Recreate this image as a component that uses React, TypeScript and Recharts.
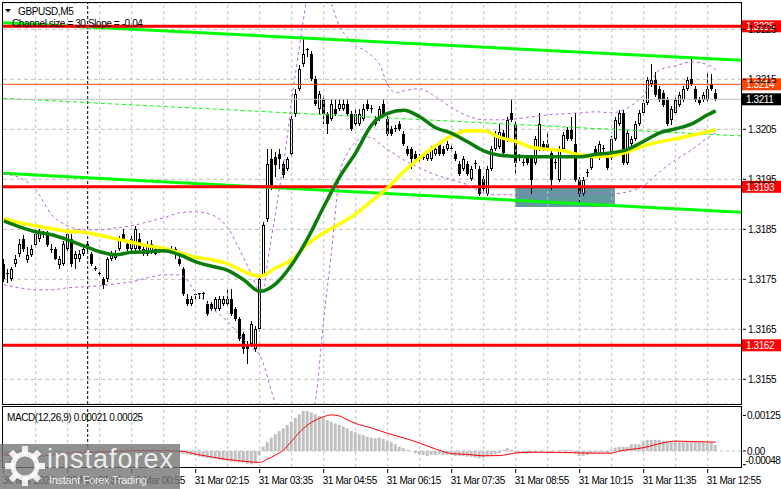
import React from "react";
import {
  Bar,
  CartesianGrid,
  ComposedChart,
  Line,
  ReferenceArea,
  ReferenceLine,
  XAxis,
  YAxis,
} from "recharts";

const FONT = '"Liberation Sans", Arial, Helvetica, sans-serif';

// GBPUSD M5, 30 Mar 22:15 -> 31 Mar 13:05, one entry per bar.
// Prices are written as pips above 1.3100.
const BASE = 1.31;
const toPrice = (pips: number) => Math.round((BASE + pips / 10000) * 1e6) / 1e6;

const opens = [
  78.1, 76.2, 75.1, 78.1, 80.1, 83.1, 78.9, 79.9, 81.9, 83.1,
  84, 84.1, 81, 81.1, 77.9, 78.1, 81.1, 83.1, 79.1, 79.1,
  80.1, 82.1, 80.1, 77.2, 76.2, 75.1, 75.1, 79.1, 79.3, 81.1,
  84.1, 82.1, 81.1, 81.1, 83.1, 80.1, 80.1, 80.3, 81.1, 81,
  81.1, 81, 81.1, 81.1, 79.1, 77.1, 71.1, 70.1, 72, 72.1,
  72.1, 70.1, 70.1, 69.1, 69.1, 70.1, 70.1, 71.1, 69.1, 67.1,
  64.1, 62.1, 62.1, 61.1, 65, 75.9, 87.1, 99.1, 99.5, 100.1,
  98.1, 97.1, 100.1, 108.1, 113.1, 118.1, 121, 120.1, 115.1, 109.1,
  111.1, 108.1, 107.1, 109.1, 109.1, 109.1, 110.1, 108.1, 106.1, 106.1,
  107.1, 110.1, 109.2, 107.1, 107.1, 110.1, 107.1, 105.1, 105.2, 106.1,
  104.1, 101.1, 101.1, 100.1, 99.2, 99.3, 99.1, 99.1, 100.1, 102.1,
  101.1, 101.1, 101.2, 100.1, 98.1, 97.1, 98.1, 95.1, 98.2, 97.1,
  95.1, 92.1, 97.1, 101.1, 101.5, 104.3, 102.9, 108.3, 106.1, 99.4,
  98.4, 99.3, 99.3, 98.3, 101.1, 102.1, 102.1, 100.3, 98.4, 94.9,
  101.1, 104.9, 104.9, 102.1, 94.9, 92.1, 96.4, 97.3, 101.1, 99.3,
  101.2, 99.3, 99.3, 103.1, 106.1, 108.3, 98.3, 102.1, 103.1, 106.1,
  108.3, 110.3, 114, 114.9, 113.1, 112.3, 110.9, 106.9, 108.3, 109.9,
  110.9, 113.1, 115.1, 113.1, 110.9, 110.9, 110.9, 114.1, 112.3,
];

const highs = [
  79, 77, 77.5, 79.8, 83, 83.8, 81.5, 81.8, 84.8, 85.1,
  84.6, 84.6, 82, 81.5, 79.6, 82.7, 84.7, 84, 80.6, 80.8,
  82, 82.6, 80.5, 77.6, 76.6, 75.5, 79.5, 80.6, 80.8, 83.6,
  85.1, 82.6, 83.6, 85.6, 84.3, 81.6, 82.6, 82.8, 81.6, 81.3,
  81.4, 81.3, 81.6, 81.5, 79.6, 77.5, 72.1, 71.6, 72.2, 72.3,
  72.4, 70.6, 70.5, 71.5, 71.6, 71.6, 73.1, 73.1, 69.5, 67.5,
  64.5, 62.6, 66.6, 65.6, 75.6, 86.5, 101.1, 101.1, 100.5, 101.1,
  98.6, 99.5, 107.6, 113.1, 117.9, 123.1, 121.3, 120.6, 115.6, 112.6,
  111.6, 108.5, 111.1, 111, 111.1, 111.1, 111.1, 108.6, 109, 109.1,
  110.1, 111.1, 109.8, 107.6, 109.6, 111.1, 107.6, 105.6, 105.8, 106.6,
  104.6, 101.6, 101.5, 100.6, 100, 100.3, 100.6, 101.6, 101.6, 102.6,
  101.6, 102.6, 101.8, 100.6, 98.6, 99.6, 98.6, 97.6, 98.8, 97.6,
  95.6, 97.6, 101.6, 104.6, 106, 104.8, 107.4, 111.1, 106.6, 100,
  99, 99.8, 99.8, 103.6, 108.3, 102.6, 104.5, 100.8, 99, 101.6,
  104.4, 105.4, 107.5, 108.3, 95.4, 95.4, 97, 99.8, 101.6, 102.6,
  101.8, 99.8, 103.6, 107.4, 108.8, 108.8, 104.8, 103.6, 106.6, 108.8,
  110.8, 115.4, 118.1, 116.5, 113.6, 112.8, 111.4, 109.6, 111.4, 112.4,
  113.6, 115.4, 119.1, 113.6, 111.4, 112.4, 116.5, 116.1, 113.1,
];

const lows = [
  74.5, 74.3, 74.7, 77.5, 79.5, 80.5, 78.2, 79.5, 81.5, 82.5,
  83.2, 81.5, 80.2, 78.8, 77, 77.6, 80.6, 77.5, 77.1, 78.5,
  79.6, 80.6, 77.6, 76.7, 75.6, 73.1, 74.5, 78.7, 78.8, 80.6,
  82.6, 80.6, 80.7, 80.7, 80.7, 79.7, 79.7, 80, 79.8, 80.2,
  80.3, 80.2, 80.3, 79.1, 77.7, 71.7, 69.7, 69.7, 71, 71.1,
  71, 67.7, 68.7, 68.7, 68.7, 69.7, 69.7, 67.7, 66.6, 62.6,
  60.1, 58.1, 61.5, 60.5, 64.5, 75.5, 86.5, 92.9, 95.5, 97,
  95.3, 96.7, 99.6, 107.5, 112.6, 117.5, 119.5, 114.6, 109.6, 108,
  106, 104.1, 106.6, 107.6, 108.6, 108.6, 107.6, 104.6, 105.6, 105.6,
  106.6, 108.6, 108.3, 105.6, 106.6, 107.6, 103.6, 103.6, 104.5, 104.6,
  101.6, 99.6, 97.1, 98.6, 98.6, 98.8, 98.6, 98.6, 99.6, 99.6,
  99.6, 100.6, 100.4, 98.6, 95.6, 96.6, 95.6, 94.6, 97.1, 91.6,
  92.1, 91.6, 96.6, 100.6, 101, 99.8, 102.4, 106.4, 96.1, 98.6,
  97.6, 97.8, 92.1, 97.8, 100.6, 100.6, 100.6, 92.9, 97, 94.4,
  100.6, 102.6, 102.6, 94.4, 90.3, 91.6, 95.5, 96.8, 99.8, 98.8,
  100.4, 96.8, 98.8, 102.6, 105.6, 97.8, 97.8, 101.6, 102.6, 105.6,
  107.8, 109.8, 113.4, 111.4, 110.4, 109.4, 105.6, 105.9, 107.8, 109.4,
  110.4, 112.6, 113.6, 110.4, 109.8, 110.4, 110.4, 112.6, 110.6,
];

const closes = [
  75.1, 76, 77.1, 79.1, 82.1, 81.1, 79.9, 81.1, 84.1, 84.3,
  83.8, 81.9, 80.9, 79.1, 79.1, 82.1, 84.1, 78.1, 80.1, 80.1,
  81.1, 81.1, 78.1, 77.1, 76.1, 73.9, 79.1, 80.1, 80.2, 83.1,
  83.1, 81.1, 83.1, 85.1, 81.1, 81.1, 82.1, 82.1, 80.1, 81.1,
  81.2, 81.1, 81, 80.1, 78.1, 72.1, 70.1, 71.1, 72.1, 72.2,
  72.2, 68.1, 69.1, 71.1, 71.1, 71.1, 71.1, 68.1, 67.1, 63.1,
  61.1, 61.1, 66.1, 65.1, 75.1, 85.9, 98.1, 93.9, 97.9, 99.1,
  95.9, 99.1, 107.1, 112.1, 117.1, 120.1, 121.1, 115.1, 110.1, 112.1,
  108.1, 106.1, 110.1, 108.1, 110.1, 110.1, 108.1, 105.1, 108.1, 108.1,
  109.1, 109.1, 109.1, 106.1, 109.1, 108.1, 104.1, 104.1, 105.1, 105.1,
  102.1, 100.1, 99.1, 99.1, 99.3, 99.4, 100.1, 101.1, 101.1, 100.1,
  100.1, 102.1, 101.1, 99.1, 96.1, 99.1, 96.1, 97.1, 98.1, 92.1,
  93.1, 97.1, 101.1, 104.1, 104.5, 100.3, 106.9, 106.9, 98.3, 99.3,
  98.3, 98.3, 94.9, 103.1, 106.1, 101.1, 101.1, 94.9, 98.3, 101.1,
  103.9, 103.1, 103.1, 94.9, 92.1, 94.9, 96.3, 99.3, 100.3, 102.1,
  101.1, 97.3, 103.1, 106.9, 108.3, 98.3, 104.3, 103.1, 106.1, 108.3,
  110.3, 114.9, 114.9, 111.9, 110.9, 109.9, 106.1, 109.1, 110.9, 111.9,
  113.1, 114.9, 114.1, 110.9, 110.3, 111.9, 113.1, 113.1, 111.1,
];

// moving averages, read every 4th bar
const maBars = [
  0, 4, 8, 12, 16, 20, 24, 28, 32, 36, 40, 44, 48, 52, 56, 60, 64, 68, 72, 76,
  80, 84, 88, 92, 96, 100, 104, 108, 112, 116, 120, 124, 128, 132, 136, 140,
  144, 148, 152, 156, 160, 164, 168, 172, 176, 178,
];
const maGreen = [
  86.7, 85.5, 84.5, 83.9, 82.9, 81.7, 80.5, 79.9, 80.4, 80.5, 80.7, 79.9, 78.5,
  77.6, 76.8, 74.9, 72.6, 74.1, 77.9, 83.2, 89.5, 95.5, 100.3, 105.9, 108.2,
  108.8, 107.5, 105.3, 104.2, 102.5, 100.7, 99.8, 99.6, 99.5, 99.5, 99.5, 99.5,
  100.0, 100.3, 101.0, 102.6, 104.3, 105.1, 106.1, 107.9, 108.7,
];
const maYellow = [
  87.2, 86.3, 85.7, 85.1, 84.6, 84.4, 83.8, 83.1, 82.4, 81.7, 81.2, 80.3, 79.4,
  78.9, 78.1, 76.6, 75.6, 77.3, 78.9, 82.1, 84.3, 86.1, 88.1, 90.7, 93.3, 96.5,
  99.3, 101.7, 103.7, 104.7, 104.7, 103.4, 102.6, 101.4, 101.0, 100.7, 99.9,
  99.5, 99.7, 100.5, 101.7, 102.5, 103.1, 103.8, 104.5, 104.9,
];

// envelope bands (dashed purple)
const bandBars = [
  0, 4, 8, 12, 16, 20, 24, 28, 32, 36, 40, 44, 48, 52, 56, 60, 62, 64, 65, 66,
  67, 68, 69, 70, 71, 72, 73, 74, 75, 76, 78, 80, 82, 84, 86, 88, 90, 92, 94,
  96, 98, 100, 104, 108, 112, 116, 120, 124, 128, 132, 136, 140, 144, 148, 152,
  156, 160, 164, 168, 172, 176, 178,
];
const bandUpper = [
  96.1, 95.3, 92.9, 87.9, 85.7, 84.9, 84.9, 85.3, 85.7, 86.5, 87.3, 88.3, 88.5,
  87.9, 85.3, 79.3, 75.9, 72.9, 73.3, 78.7, 83.7, 88.5, 93.5, 98.3, 104.3,
  110.9, 116.5, 121.9, 127.3, 132.5, 136.9, 133.9, 129.9, 125.5, 123.3, 121.7,
  120.9, 119.7, 117.9, 113.9, 112.3, 112.7, 113.1, 111.5, 109.3, 107.7, 106.9,
  106.9, 107.1, 107.5, 107.9, 108.1, 108.3, 108.5, 108.3, 109.3, 111.9, 116.9,
  117.7, 118.5, 117.9, 116.9,
];
const bandLower = [
  73.9, 73.3, 72.9, 72.9, 73.3, 73.5, 73.7, 74.1, 74.5, 75.3, 75.9, 75.9, 72.5,
  69.3, 66.5, 62.9, 61.3, 59.9, 57.9, 55.3, 52.5, 49.9, 47.3, 44.9, 42.9, 41.3,
  40.5, 40.5, 41.3, 42.9, 50.9, 66.9, 80.9, 95.9, 100.3, 102.5, 103.5, 103.3,
  102.1, 100.9, 99.9, 98.9, 97.3, 95.9, 94.9, 93.9, 92.3, 91.9, 91.9, 92.1,
  91.9, 91.9, 92.3, 92.3, 92.1, 92.5, 93.7, 96.5, 98.9, 100.9, 103.3, 104.3,
];

// regression channel ends (left edge, right edge)
const edgeBars = [-0.175, 184.325];
const channelTop = [126.33, 118.8];
const channelMid = [111.2, 103.68];
const channelBottom = [96.2, 88.4];

// horizontal levels
const redLevels = [1.32256, 1.31935, 1.31618];
const redLabels = ["1.3225", "1.3193", "1.3162"];
const askLevel = 1.3214;
const bidLevel = 1.3211;

// shaded zone
const zoneBars = [127.8, 152.8];
const zonePips = [89.44, 93.56];

const dayBreak = 21;

// MACD(12,26,9) main, one per bar
const macdHist = [
  -0.00012, -0.00012, -0.00011, -0.0001, -0.00008, -0.00006, -0.00006, -0.00005, -0.00003, -0.00001,
  0, 0, -0.00001, -0.00002, -0.00003, -0.00002, 0, -0.00001, -0.00002, -0.00002,
  -0.00001, -0.00001, -0.00003, -0.00005, -0.00006, -0.00008, -0.00006, -0.00005, -0.00004, -0.00002,
  0, 0, 0.00001, 0.00003, 0.00003, 0.00002, 0.00002, 0.00003, 0.00002, 0.00002,
  0.00002, 0.00001, 0.00001, 0, -0.00008, -0.0001, -0.00012, -0.00014, -0.00017, -0.0002,
  -0.00022, -0.00024, -0.00026, -0.00028, -0.00031, -0.00033, -0.00035, -0.00037, -0.00038, -0.0004,
  -0.00042, -0.00045, -0.00047, -0.00044, -0.00016, 0.00015, 0.00031, 0.00047, 0.00059, 0.0007,
  0.0008, 0.00092, 0.00103, 0.00117, 0.00129, 0.00141, 0.00141, 0.00136, 0.00129, 0.00123,
  0.00117, 0.00109, 0.00103, 0.00097, 0.00092, 0.00086, 0.0008, 0.0007, 0.00066, 0.00059,
  0.00056, 0.0005, 0.00047, 0.00045, 0.00047, 0.00042, 0.00035, 0.00031, 0.00024, 0.00015,
  0.0001, 0.00004, 0, -0.00008, -0.00012, -0.00014, -0.00018, -0.00014, -0.00014, -0.00012,
  -0.00014, -0.00014, -0.00014, -0.00018, -0.00018, -0.00018, -0.0002, -0.0002, -0.00023, -0.00026,
  -0.00023, -0.00018, -0.00014, -0.00012, -0.00008, 0.00004, 0.0001, 0.00004, -0.00004, -0.00008,
  -0.00008, -0.00008, -0.00008, -0.00006, -0.00002, 0.00002, 0, -0.00004, 0, 0.00002,
  0.00004, 0.00004, 0.00002, -0.00008, -0.00017, -0.00017, -0.00014, -0.00008, -0.00006, -0.00006,
  -0.00004, -0.00006, 0.00005, 0.00012, 0.00015, 0.00015, 0.00015, 0.00024, 0.00024, 0.00024,
  0.00033, 0.00039, 0.00039, 0.00039, 0.00039, 0.00036, 0.00036, 0.00033, 0.00031, 0.00031,
  0.00031, 0.00031, 0.00031, 0.00031, 0.00031, 0.00031, 0.00031, 0.00031, 0.00021,
];

// MACD signal line
const signalBars = [
  0, 8, 16, 24, 32, 40, 44, 48, 52, 56, 60, 64, 66, 68, 70, 72, 74, 76, 78, 80,
  82, 84, 86, 88, 92, 96, 100, 104, 108, 112, 116, 120, 124, 128, 132, 140,
  148, 152, 154, 160, 164, 168, 172, 176, 178,
];
const signalValues = [
  -0.00014, -0.00019, -0.00008, -0.00004, 0.00001, 0.00001, 0, -0.00011,
  -0.00021, -0.0003, -0.00036, -0.0004, -0.00028, -0.00014, 0.00004, 0.00035,
  0.00067, 0.00092, 0.00109, 0.00121, 0.00127, 0.00123, 0.00109, 0.00097,
  0.00081, 0.00062, 0.00046, 0.00028, 0.00007, -0.00009, -0.00012, -0.00017,
  -0.00016, -0.00007, -0.00004, -0.00005, -0.00008, -0.00007, 0, 0.00012,
  0.00026, 0.00035, 0.00033, 0.00032, 0.00031,
];

const timeTicks = [0, 16, 32, 48, 64, 80, 96, 112, 128, 144, 160, 176];
const timeLabels = [
  "30 Mar 2025", "30 Mar 23:35", "31 Mar 00:55", "31 Mar 02:15",
  "31 Mar 03:35", "31 Mar 04:55", "31 Mar 06:15", "31 Mar 07:35",
  "31 Mar 08:55", "31 Mar 10:15", "31 Mar 11:35", "31 Mar 12:55",
];
const gridBars = [
  8, 16, 24, 32, 40, 48, 56, 64, 72, 80, 88, 96, 104, 112, 120, 128, 136, 144,
  152, 160, 168, 176,
];
const priceTicks = [1.3155, 1.3165, 1.3175, 1.3185, 1.3195, 1.3205, 1.3215, 1.3225];
const macdTicks = [0.00125, 0, -0.00048];
const macdTickLabels = ["0.00125", "0.00", "-0.00048"];

const X_DOMAIN: [number, number] = [-0.175, 184.325];
const PRICE_DOMAIN: [number, number] = [1.315006, 1.323026];
const MACD_DOMAIN: [number, number] = [-0.000563, 0.001549];

type Row = {
  i: number;
  range: [number, number];
  o: number;
  c: number;
  green?: number;
  yellow?: number;
  upper?: number;
  lower?: number;
};

const rows: Row[] = opens.map((o, i) => ({
  i,
  range: [toPrice(lows[i]), toPrice(highs[i])],
  o: toPrice(o),
  c: toPrice(closes[i]),
}));
maBars.forEach((b, k) => {
  rows[b].green = toPrice(maGreen[k]);
  rows[b].yellow = toPrice(maYellow[k]);
});
bandBars.forEach((b, k) => {
  rows[b].upper = toPrice(bandUpper[k]);
  rows[b].lower = toPrice(bandLower[k]);
});

const macdRows: { i: number; hist: number; signal?: number }[] = macdHist.map(
  (hist, i) => ({ i, hist })
);
signalBars.forEach((b, k) => {
  macdRows[b].signal = signalValues[k];
});

const Candle = (props: any) => {
  const { x, y, width, height, payload } = props;
  if (x == null || y == null || !payload) return null;
  const [lo, hi] = payload.range as [number, number];
  const top = Math.min(y, y + height);
  const h = Math.abs(height);
  const toY = (v: number) => (hi === lo ? top : top + ((hi - v) / (hi - lo)) * h);
  const cx = Math.floor(x + width / 2) + 0.5;
  const yo = toY(payload.o);
  const yc = toY(payload.c);
  const bodyTop = Math.round(Math.min(yo, yc));
  const bodyBot = Math.round(Math.max(yo, yc));
  const bull = payload.c >= payload.o;
  let body;
  if (bodyBot - bodyTop <= 1) {
    body = (
      <line x1={cx - 1.5} x2={cx + 1.5} y1={bodyTop + 0.5} y2={bodyTop + 0.5} stroke="#000" />
    );
  } else if (bull) {
    body = (
      <rect
        x={cx - 1}
        y={bodyTop + 0.5}
        width={2}
        height={bodyBot - bodyTop - 1}
        fill="#fff"
        stroke="#000"
        strokeWidth={1}
      />
    );
  } else {
    body = <rect x={cx - 1.5} y={bodyTop} width={3} height={bodyBot - bodyTop} fill="#000" />;
  }
  return (
    <g shapeRendering="crispEdges">
      <line x1={cx} x2={cx} y1={Math.round(top)} y2={Math.round(top + h)} stroke="#000" />
      {body}
    </g>
  );
};

const PriceTick = (p: any) => (
  <g>
    <line x1={p.x} x2={p.x + 3} y1={p.y} y2={p.y} stroke="#000" />
    <text
      x={p.x + 5}
      y={p.y + 3.5}
      fontSize={10}
      fontFamily={FONT}
      letterSpacing={-0.4}
      fill="#000"
    >
      {Number(p.payload.value).toFixed(4)}
    </text>
  </g>
);

const MacdTick = (p: any) => {
  const k = macdTicks.indexOf(p.payload.value);
  const negative = p.payload.value < 0;
  return (
    <g>
      <line x1={p.x} x2={p.x + 3} y1={p.y} y2={p.y} stroke="#000" />
      <text
        x={p.x + (negative ? 2.5 : 4)}
        y={p.y + 3.5 + (negative ? -4 : 0)}
        fontSize={10}
        fontFamily={FONT}
        letterSpacing={negative ? -0.6 : -0.4}
        fill="#000"
      >
        {macdTickLabels[k]}
      </text>
    </g>
  );
};

const TimeTick = (p: any) => {
  const k = timeTicks.indexOf(p.payload.value);
  return (
    <g>
      <line x1={p.x} x2={p.x} y1={p.y} y2={p.y + 4} stroke="#000" />
      <text
        x={p.x - 1}
        y={p.y + 15}
        fontSize={10}
        fontFamily={FONT}
        letterSpacing={-0.4}
        fill="#000"
      >
        {timeLabels[k]}
      </text>
    </g>
  );
};

const PriceTag = (props: any) => {
  const { viewBox, text, bg } = props;
  if (!viewBox) return null;
  const x = viewBox.x + viewBox.width + 1;
  const y = viewBox.y;
  return (
    <g>
      <rect x={x} y={y - 6} width={39} height={12} fill={bg} />
      <text
        x={x + 4}
        y={y + 4}
        fontSize={10}
        fontFamily={FONT}
        letterSpacing={-0.4}
        fill="#fff"
      >
        {text}
      </text>
    </g>
  );
};

const MainPanel = () => (
  <ComposedChart
    width={781}
    height={407}
    data={rows}
    margin={{ top: 3, right: 0, bottom: 3, left: 3 }}
  >
    <CartesianGrid vertical={false} stroke="#c0c0c0" strokeDasharray="4 3" />
    <XAxis type="number" dataKey="i" domain={X_DOMAIN} allowDataOverflow hide />
    <YAxis
      orientation="right"
      width={40}
      domain={PRICE_DOMAIN}
      allowDataOverflow
      ticks={priceTicks}
      interval={0}
      axisLine={false}
      tickLine={false}
      tickSize={0}
      tick={<PriceTick />}
    />
    {gridBars.map((b) => (
      <ReferenceLine key={b} x={b} stroke="#c0c0c0" strokeDasharray="3 3" />
    ))}
    <ReferenceLine x={dayBreak} stroke="#000" strokeDasharray="3 2" />
    <ReferenceArea
      x1={zoneBars[0]}
      x2={zoneBars[1]}
      y1={toPrice(zonePips[0])}
      y2={toPrice(zonePips[1])}
      fill="#62989f"
      fillOpacity={1}
      stroke="none"
    />
    <Bar dataKey="range" barSize={3} shape={Candle} isAnimationActive={false} />
    <ReferenceLine
      segment={[
        { x: edgeBars[0], y: toPrice(channelMid[0]) },
        { x: edgeBars[1], y: toPrice(channelMid[1]) },
      ]}
      stroke="#00ff00"
      strokeDasharray="4 3"
    />
    <ReferenceLine
      segment={[
        { x: edgeBars[0], y: toPrice(channelTop[0]) },
        { x: edgeBars[1], y: toPrice(channelTop[1]) },
      ]}
      stroke="#00ff00"
      strokeWidth={3}
    />
    <ReferenceLine
      segment={[
        { x: edgeBars[0], y: toPrice(channelBottom[0]) },
        { x: edgeBars[1], y: toPrice(channelBottom[1]) },
      ]}
      stroke="#00ff00"
      strokeWidth={3}
    />
    <ReferenceLine
      y={bidLevel}
      stroke="#c0c0c0"
      label={<PriceTag text={bidLevel.toFixed(4)} bg="#000" />}
    />
    <ReferenceLine
      y={askLevel}
      stroke="#ff4500"
      label={<PriceTag text={askLevel.toFixed(4)} bg="#ff4500" />}
    />
    {redLevels.map((p, k) => (
      <ReferenceLine
        key={p}
        y={p}
        stroke="#ff0000"
        strokeWidth={3}
        label={<PriceTag text={redLabels[k]} bg="#ff0000" />}
      />
    ))}
    <Line
      dataKey="upper"
      type="monotone"
      stroke="#b565d8"
      strokeDasharray="3 3"
      strokeWidth={1}
      dot={false}
      activeDot={false}
      connectNulls
      isAnimationActive={false}
    />
    <Line
      dataKey="lower"
      type="monotone"
      stroke="#b565d8"
      strokeDasharray="3 3"
      strokeWidth={1}
      dot={false}
      activeDot={false}
      connectNulls
      isAnimationActive={false}
    />
    <Line
      dataKey="yellow"
      type="monotone"
      stroke="#ffff00"
      strokeWidth={3.5}
      dot={false}
      activeDot={false}
      connectNulls
      isAnimationActive={false}
    />
    <Line
      dataKey="green"
      type="monotone"
      stroke="#0a7d0a"
      strokeWidth={3.5}
      dot={false}
      activeDot={false}
      connectNulls
      isAnimationActive={false}
    />
  </ComposedChart>
);

const MacdPanel = () => (
  <ComposedChart
    width={781}
    height={84}
    data={macdRows}
    margin={{ top: 2, right: 0, bottom: 0, left: 3 }}
  >
    <XAxis
      type="number"
      dataKey="i"
      domain={X_DOMAIN}
      allowDataOverflow
      ticks={timeTicks}
      interval={0}
      height={22}
      axisLine={false}
      tickLine={false}
      tickSize={0}
      tick={<TimeTick />}
    />
    <YAxis
      orientation="right"
      width={40}
      domain={MACD_DOMAIN}
      allowDataOverflow
      ticks={macdTicks}
      interval={0}
      axisLine={false}
      tickLine={false}
      tickSize={0}
      tick={<MacdTick />}
    />
    {gridBars.map((b) => (
      <ReferenceLine key={b} x={b} stroke="#c0c0c0" strokeDasharray="3 3" />
    ))}
    <ReferenceLine x={dayBreak} stroke="#000" strokeDasharray="3 2" />
    <ReferenceLine y={0} stroke="#c0c0c0" strokeDasharray="3 3" />
    <Bar dataKey="hist" barSize={3} fill="#c0c0c0" isAnimationActive={false} />
    <Line
      dataKey="signal"
      type="monotone"
      stroke="#ff0000"
      strokeWidth={1}
      dot={false}
      activeDot={false}
      connectNulls
      isAnimationActive={false}
    />
  </ComposedChart>
);

const Gear = () => (
  <svg width={44} height={44} style={{ position: "absolute", left: 3, top: 0 }}>
    {[0, 45, 90, 135, 180, 225, 270, 315].map((a) => (
      <rect
        key={a}
        x={19}
        y={2}
        width={6}
        height={9}
        fill="rgba(255,255,255,0.85)"
        transform={`rotate(${a} 22 22)`}
      />
    ))}
    <circle cx={22} cy={22} r={12} fill="none" stroke="rgba(255,255,255,0.85)" strokeWidth={5} />
  </svg>
);

export default function App() {
  return (
    <div
      style={{
        position: "absolute",
        left: 0,
        top: 0,
        width: 781,
        height: 489,
        background: "#fff",
        overflow: "hidden",
        fontFamily: FONT,
      }}
    >
      <div style={{ position: "absolute", left: 0, top: 0 }}>
        <MainPanel />
      </div>
      <div style={{ position: "absolute", left: 0, top: 405 }}>
        <MacdPanel />
      </div>
      <div
        style={{
          position: "absolute",
          left: 2,
          top: 2,
          width: 740,
          height: 403,
          border: "1px solid #000",
          boxSizing: "border-box",
          pointerEvents: "none",
        }}
      />
      <div
        style={{
          position: "absolute",
          left: 2,
          top: 406,
          width: 740,
          height: 62,
          border: "1px solid #000",
          boxSizing: "border-box",
          pointerEvents: "none",
        }}
      />
      <svg
        width={781}
        height={489}
        style={{ position: "absolute", left: 0, top: 0, pointerEvents: "none" }}
      >
        <polygon points="5,9 11,9 8,12.5" fill="#000" />
        <text x={18} y={15} fontSize={10} fontFamily={FONT} letterSpacing={-0.4} fill="#000">
          GBPUSD,M5
        </text>
        <text x={12} y={26.5} fontSize={10} fontFamily={FONT} letterSpacing={-0.4} fill="#000">
          Channel size = 30 Slope = -0.04
        </text>
        <text x={7} y={421} fontSize={10} fontFamily={FONT} letterSpacing={-0.4} fill="#000">
          MACD(12,26,9) 0.00021 0.00025
        </text>
      </svg>
      <div
        style={{
          position: "absolute",
          left: 0,
          top: 444,
          width: 180,
          height: 45,
          background: "rgba(118,118,118,0.8)",
          pointerEvents: "none",
        }}
      >
        <Gear />
        <div
          style={{
            position: "absolute",
            left: 47,
            top: 0,
            fontSize: 27,
            lineHeight: "30px",
            letterSpacing: 1,
            color: "rgba(255,255,255,0.85)",
            fontFamily: FONT,
          }}
        >
          instaforex
        </div>
        <div
          style={{
            position: "absolute",
            left: 49,
            top: 30,
            fontSize: 11,
            lineHeight: "13px",
            letterSpacing: -0.3,
            color: "rgba(255,255,255,0.85)",
            fontFamily: FONT,
          }}
        >
          Instant Forex Trading
        </div>
      </div>
    </div>
  );
}
